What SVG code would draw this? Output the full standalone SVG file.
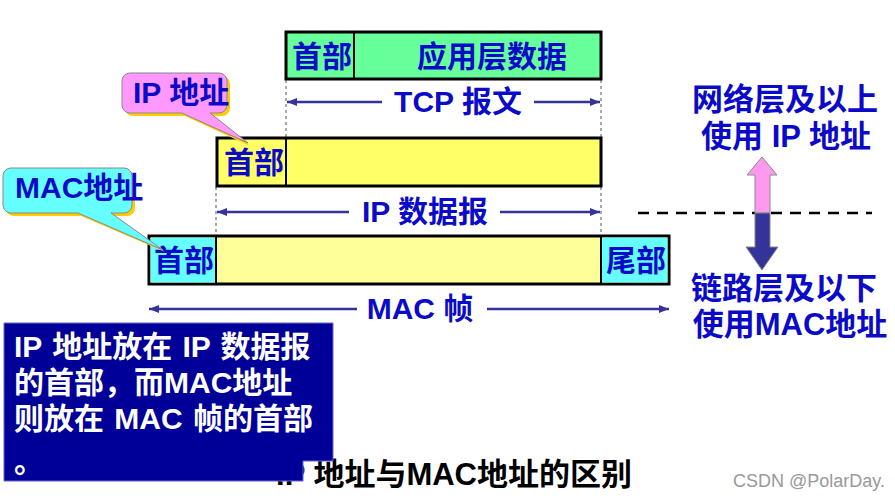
<svg xmlns="http://www.w3.org/2000/svg" width="895" height="501" viewBox="0 0 895 501">
<defs>
<style>
.t{font-family:"Liberation Sans","Noto Sans CJK SC",sans-serif;font-weight:bold;font-size:30px;fill:#0a0ac8}
.r{font-size:31px}
.w{fill:#ffffff}
.box{stroke:#000;stroke-width:3}
.div{stroke:#000;stroke-width:2}
.dash{stroke:#555;stroke-width:1;stroke-dasharray:3,3}
.dim{stroke:#333399;stroke-width:2.5}
</style>
<marker id="ah" viewBox="0 0 10 10" refX="10" refY="5" markerWidth="4" markerHeight="4" orient="auto-start-reverse">
<path d="M0,1 L10,5 L0,9 z" fill="#333399"/>
</marker>
</defs>
<rect width="895" height="501" fill="#fff"/>

<g id="connectors">
<line class="dash" x1="286" y1="80" x2="286" y2="137"/>
<line class="dash" x1="601" y1="80" x2="601" y2="137"/>
<line class="dash" x1="216" y1="187" x2="216" y2="235"/>
<line class="dash" x1="601" y1="187" x2="601" y2="235"/>
<line class="dim" x1="287" y1="102" x2="382" y2="102" marker-start="url(#ah)"/>
<line class="dim" x1="534" y1="102" x2="600" y2="102" marker-end="url(#ah)"/>
<line class="dim" x1="217" y1="212" x2="349" y2="212" marker-start="url(#ah)"/>
<line class="dim" x1="500" y1="212" x2="600" y2="212" marker-end="url(#ah)"/>
<line class="dim" x1="149" y1="309" x2="357" y2="309" marker-start="url(#ah)"/>
<line class="dim" x1="487" y1="309" x2="669" y2="309" marker-end="url(#ah)"/>
<line x1="638" y1="213" x2="872" y2="213" stroke="#000" stroke-width="2.5" stroke-dasharray="11,8"/>
</g>

<g id="tcp">
<rect class="box" x="286" y="32" width="315" height="47" fill="#66ff99"/>
<line class="div" x1="354" y1="32" x2="354" y2="79"/>
<text class="t" x="322" y="67" text-anchor="middle">首部</text>
<text class="t" x="492" y="67" text-anchor="middle">应用层数据</text>
<text class="t" x="458" y="112" text-anchor="middle">TCP 报文</text>
</g>

<g id="ip">
<rect class="box" x="217" y="138" width="384" height="48" fill="#ffff66"/>
<line class="div" x1="286" y1="138" x2="286" y2="186"/>
<text class="t" x="254" y="173" text-anchor="middle">首部</text>
<text class="t" x="425" y="222" text-anchor="middle">IP 数据报</text>
</g>

<g id="mac">
<rect class="box" x="149" y="236" width="520" height="48" fill="#ffff99"/>
<rect x="150.5" y="237.5" width="65" height="45" fill="#66ffff"/>
<rect x="602" y="237.5" width="65.5" height="45" fill="#66ffff"/>
<line class="div" x1="216" y1="236" x2="216" y2="284"/>
<line class="div" x1="601" y1="236" x2="601" y2="284"/>
<text class="t" x="184" y="271" text-anchor="middle">首部</text>
<text class="t" x="636" y="271" text-anchor="middle">尾部</text>
<text class="t" x="420" y="319" text-anchor="middle">MAC 帧</text>
</g>

<g id="ip-callout">
<path d="M133,76 h89 a8,8 0 0 1 8,8 v24 a8,8 0 0 1 -8,8 h-9 L250,146 L185,116 h-52 a8,8 0 0 1 -8,-8 v-24 a8,8 0 0 1 8,-8 z" fill="#ffcc00"/>
<path d="M130,73 h89 a8,8 0 0 1 8,8 v24 a8,8 0 0 1 -8,8 h-9 L248,143 L182,113 h-52 a8,8 0 0 1 -8,-8 v-24 a8,8 0 0 1 8,-8 z" fill="#ff99ff" stroke="#888" stroke-width="1"/>
<text class="t" x="133" y="103">IP 地址</text>
</g>

<g id="mac-callout">
<path d="M14,171 h113 a8,8 0 0 1 8,8 v29 a8,8 0 0 1 -8,8 h-13 L165,252 L81,216 h-67 a8,8 0 0 1 -8,-8 v-29 a8,8 0 0 1 8,-8 z" fill="#ffcc00"/>
<path d="M11,168 h113 a8,8 0 0 1 8,8 v29 a8,8 0 0 1 -8,8 h-13 L163,250 L78,213 h-67 a8,8 0 0 1 -8,-8 v-29 a8,8 0 0 1 8,-8 z" fill="#66ffff" stroke="#888" stroke-width="1"/>
<text class="t" x="15" y="198">MAC地址</text>
</g>

<g id="layers">
<text class="t r" x="785" y="110" text-anchor="middle">网络层及以上</text>
<text class="t r" x="786" y="147" text-anchor="middle">使用 IP 地址</text>
<text class="t r" x="784" y="299" text-anchor="middle">链路层及以下</text>
<text class="t r" x="790" y="335" text-anchor="middle">使用MAC地址</text>
<path d="M762,157 L777,175 L770,175 L770,213 L755,213 L755,175 L747,175 Z" fill="#ff99ee" stroke="#888" stroke-width="1"/>
<path d="M755,213 L770,213 L770,247 L778,247 L762,270 L746,247 L755,247 Z" fill="#333399" stroke="#888" stroke-width="1"/>
</g>

<g id="title">
<text x="632" y="485" text-anchor="end" font-family="Liberation Sans,Noto Sans CJK SC,sans-serif" font-weight="bold" font-size="31" fill="#000">IP 地址与MAC地址的区别</text>
</g>

<g id="note">
<path d="M4,323 H333 V461 H303 V481 H4 Z" fill="#000099" stroke="#6666cc" stroke-width="1"/>
<text class="t w" x="14" y="357" word-spacing="2">IP 地址放在 IP 数据报</text>
<text class="t w" x="14" y="393">的首部，而MAC地址</text>
<text class="t w" x="14" y="429" word-spacing="2">则放在 MAC 帧的首部</text>
<text class="t w" x="14" y="472">。</text>
</g>

<text x="885" y="487" text-anchor="end" font-family="Liberation Sans,sans-serif" font-size="18" fill="#999">CSDN @PolarDay.</text>
</svg>
